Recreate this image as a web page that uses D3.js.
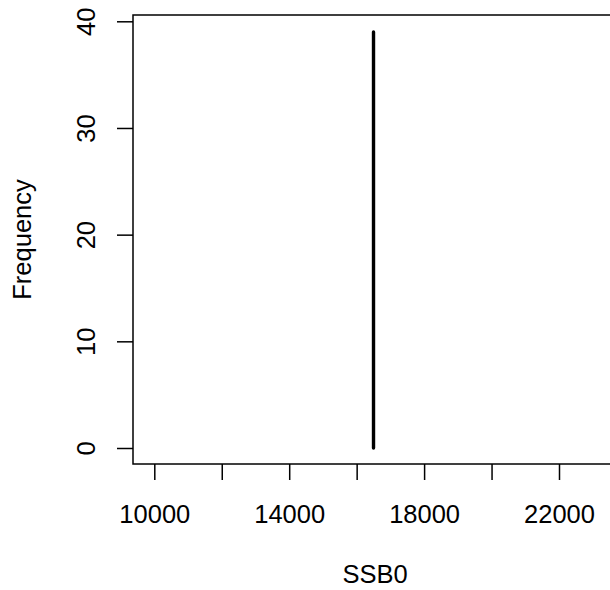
<!DOCTYPE html>
<html>
<head>
<meta charset="utf-8">
<script src="https://cdn.jsdelivr.net/npm/d3@7"></script>
<style>
  html, body { margin: 0; padding: 0; background: #fff; }
  svg { display: block; }
  text { font-family: "Liberation Sans", Arial, Helvetica, sans-serif; }
</style>
</head>
<body>
<svg id="chart" width="610" height="590"></svg>
<script>
// Data
const ssb0Values = [16500];
const frequencies = [39];
const xTickValues = [10000, 12000, 14000, 16000, 18000, 20000, 22000, 24000];
const xTickLabels = ["10000", "", "14000", "", "18000", "", "22000", ""];
const yTickValues = [0, 10, 20, 30, 40];
const yTickLabels = ["0", "10", "20", "30", "40"];
const xTitle = "SSB0";
const yTitle = "Frequency";

const W = 610, H = 590;
const box = { left: 133, top: 15, right: 617, bottom: 464 };
const fontSize = 25.5;

const svg = d3.select("#chart");

const x = d3.scaleLinear().domain([10000, 22000]).range([154.3, 559]);
const y = d3.scaleLinear().domain([0, 40]).range([448, 21.3]);

// Plot box
svg.append("rect")
  .attr("x", box.left).attr("y", box.top)
  .attr("width", box.right - box.left).attr("height", box.bottom - box.top)
  .attr("fill", "none").attr("stroke", "#000").attr("stroke-width", 1.5);

// Histogram (type "h") bars
svg.append("g").selectAll("line")
  .data(ssb0Values.map((v, i) => ({ v, f: frequencies[i] })))
  .join("line")
  .attr("x1", d => x(d.v)).attr("x2", d => x(d.v))
  .attr("y1", y(0)).attr("y2", d => y(d.f))
  .attr("stroke", "#000").attr("stroke-width", 3.4)
  .attr("stroke-linecap", "round");

// X axis
const xAxis = d3.axisBottom(x)
  .tickValues(xTickValues)
  .tickSize(16)
  .tickFormat((d, i) => xTickLabels[i]);
const gx = svg.append("g").attr("transform", `translate(0,${box.bottom})`).call(xAxis);
gx.select(".domain").remove();
gx.selectAll(".tick line").attr("stroke", "#000").attr("stroke-width", 1.5);
gx.selectAll(".tick text")
  .attr("y", 58.5).attr("dy", null)
  .attr("font-size", fontSize).attr("fill", "#000")
  .attr("font-family", "Liberation Sans, Arial, sans-serif");

// Y axis
const yAxis = d3.axisLeft(y)
  .tickValues(yTickValues)
  .tickSize(16)
  .tickFormat((d, i) => yTickLabels[i]);
const gy = svg.append("g").attr("transform", `translate(${box.left},0)`).call(yAxis);
gy.select(".domain").remove();
gy.selectAll(".tick line").attr("stroke", "#000").attr("stroke-width", 1.5);
gy.selectAll(".tick text")
  .attr("x", 0).attr("y", 0).attr("dy", null)
  .attr("text-anchor", "middle")
  .attr("transform", `translate(${95 - box.left},0) rotate(-90)`)
  .attr("font-size", fontSize).attr("fill", "#000")
  .attr("font-family", "Liberation Sans, Arial, sans-serif");

// Axis titles
svg.append("text")
  .attr("x", 375).attr("y", 583)
  .attr("text-anchor", "middle")
  .attr("font-size", fontSize).attr("fill", "#000")
  .text(xTitle);

svg.append("text")
  .attr("transform", `translate(31,${(box.top + box.bottom) / 2}) rotate(-90)`)
  .attr("text-anchor", "middle")
  .attr("font-size", fontSize).attr("fill", "#000")
  .text(yTitle);
</script>
</body>
</html>
